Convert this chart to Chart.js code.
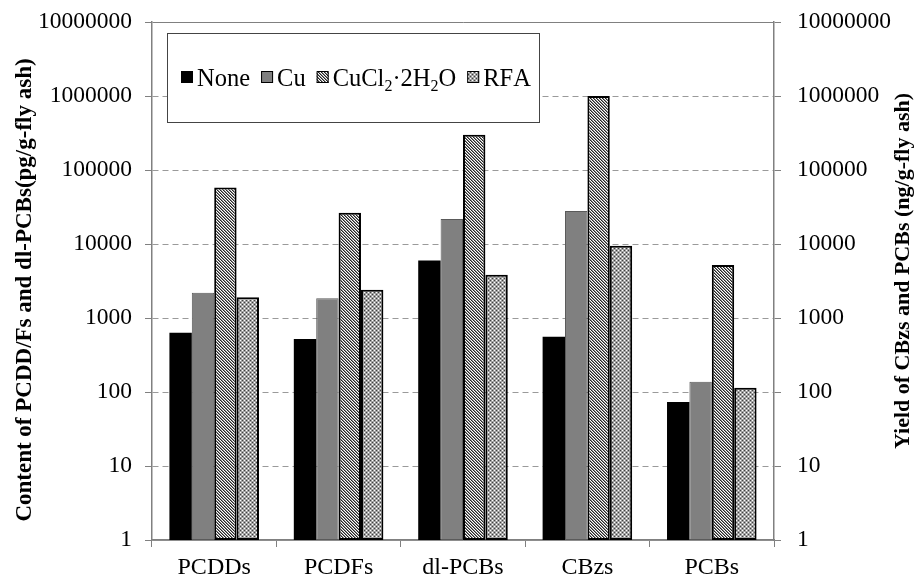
<!DOCTYPE html>
<html>
<head>
<meta charset="utf-8">
<script src="https://cdn.jsdelivr.net/npm/chart.js@4.4.1/dist/chart.umd.min.js"></script>
<style>
  html, body { margin: 0; padding: 0; background: #fff; }
  #wrap { width: 918px; height: 579px; }
</style>
</head>
<body>
<div id="wrap"><canvas id="c" width="918" height="579"></canvas></div>
<script>
// Categories, series and tick values
const categories = ['PCDDs', 'PCDFs', 'dl-PCBs', 'CBzs', 'PCBs'];
const seriesNames = ['None', 'Cu', 'CuCl₂·2H₂O', 'RFA'];
const noneValues  = [630, 520, 6000, 560, 73];
const cuValues    = [2200, 1850, 21800, 27900, 138];
const cucl2Values = [58000, 26500, 300000, 1000000, 5200];
const rfaValues   = [1900, 2400, 3850, 9500, 114];
const tickValues  = [1, 10, 100, 1000, 10000, 100000, 1000000, 10000000];
const leftTitle  = 'Content of PCDD/Fs and dl-PCBs(pg/g-fly ash)';
const rightTitle = 'Yield of CBzs and PCBs (ng/g-fly ash)';

const SERIF = "'Liberation Serif', 'Times New Roman', serif";
Chart.defaults.font.family = SERIF;
Chart.defaults.color = '#000';

// Fill patterns built pixel by pixel
function makePattern(rows, palette) {
  const c = document.createElement('canvas');
  c.width = rows[0].length; c.height = rows.length;
  const g = c.getContext('2d');
  rows.forEach((row, y) => {
    for (let x = 0; x < row.length; x++) {
      g.fillStyle = palette[row[x]];
      g.fillRect(x, y, 1, 1);
    }
  });
  return g.createPattern(c, 'repeat');
}
const ctx0 = document.getElementById('c').getContext('2d');
// fine diagonal stripes running down to the right
const hatchFill = makePattern(['kgw', 'wkg', 'gwk'], { k: '#262626', g: '#8a8a8a', w: '#ffffff' });
// grey ground with light and dark dots
const dotFill = makePattern(['wgkg', 'gggg', 'kgwg', 'gggg'], { w: '#ffffff', g: '#a2a2a2', k: '#404040' });

const fixWidth = (w) => (s) => { s.width = w; s.paddingTop = 0; s.paddingBottom = 0; };
const setPowerTicks = (s) => { s.ticks = tickValues.map(v => ({ value: v })); };

// Framed legend inside the plot, with subscripted formula text
const legendBox = {
  id: 'legendBox',
  afterDatasetsDraw(chart) {
    const { ctx, chartArea } = chart;
    const x0 = chartArea.left + 15, y0 = chartArea.top + 11, w = 372, h = 89;
    ctx.save();
    ctx.fillStyle = '#fff';
    ctx.fillRect(x0, y0, w, h);
    ctx.strokeStyle = '#444';
    ctx.lineWidth = 1;
    ctx.strokeRect(x0 + 0.5, y0 + 0.5, w, h);
    const cy = y0 + 44;
    let x = x0 + 14;
    chart.data.datasets.forEach(ds => {
      ctx.fillStyle = ds.backgroundColor;
      ctx.fillRect(x, cy - 6, 12, 12);
      ctx.strokeStyle = ds.borderWidth ? '#000' : ds.backgroundColor;
      ctx.lineWidth = 1;
      ctx.strokeRect(x + 0.5, cy - 5.5, 11, 11);
      x += 12 + 4;
      ctx.fillStyle = '#000';
      ctx.textBaseline = 'alphabetic';
      ctx.textAlign = 'left';
      const base = cy + 8.5;
      for (const ch of ds.label) {
        if (ch === '₂') {
          ctx.font = '16px ' + SERIF;
          ctx.fillText('2', x, base + 5);
          x += ctx.measureText('2').width;
        } else {
          ctx.font = '24.5px ' + SERIF;
          ctx.fillText(ch, x, base);
          x += ctx.measureText(ch).width;
        }
      }
      x += 11;
    });
    ctx.restore();
  }
};

// Vertical axis titles, both reading bottom to top
const axisTitles = {
  id: 'axisTitles',
  afterDraw(chart) {
    const { ctx } = chart;
    const draw = (text, x, y, size) => {
      ctx.save();
      ctx.translate(x, y);
      ctx.rotate(-Math.PI / 2);
      ctx.font = 'bold ' + size + 'px ' + SERIF;
      ctx.fillStyle = '#000';
      ctx.textAlign = 'center';
      ctx.textBaseline = 'middle';
      ctx.fillText(text, 0, 0);
      ctx.restore();
    };
    draw(leftTitle, 25, 290, 23);
    draw(rightTitle, 903, 271, 22);
  }
};

new Chart(ctx0, {
  type: 'bar',
  data: {
    labels: categories,
    datasets: [
      { label: seriesNames[0], data: noneValues,  backgroundColor: '#000000', borderWidth: 0 },
      { label: seriesNames[1], data: cuValues,    backgroundColor: '#808080', borderColor: '#5a5a5a', borderWidth: 1 },
      { label: seriesNames[2], data: cucl2Values, backgroundColor: hatchFill, borderColor: '#000', borderWidth: 2 },
      { label: seriesNames[3], data: rfaValues,   backgroundColor: dotFill,   borderColor: '#000', borderWidth: 2 }
    ]
  },
  options: {
    responsive: false,
    animation: false,
    devicePixelRatio: 1,
    layout: { padding: { top: 22, left: 0, right: 0, bottom: 0 } },
    datasets: { bar: { categoryPercentage: 0.72, barPercentage: 1.0, borderSkipped: false } },
    plugins: { legend: { display: false }, tooltip: { enabled: false } },
    scales: {
      x: {
        afterFit: (s) => { s.height = 39; },
        grid: { offset: true, drawOnChartArea: false, drawTicks: true, tickLength: 7, color: '#808080', tickColor: '#808080' },
        border: { color: '#808080', width: 1.5 },
        ticks: { font: { size: 24 }, padding: 6, color: '#000' }
      },
      y: {
        type: 'logarithmic',
        position: 'left',
        min: 1, max: 10000000,
        afterFit: fixWidth(152),
        afterBuildTicks: setPowerTicks,
        grid: {
          color: (c) => (c.tick && c.tick.value === 10000000) ? '#808080' : '#9a9a9a',
          lineWidth: 1, tickLength: 7, tickColor: '#808080'
        },
        border: {
          color: '#808080', width: 1.5,
          dash: (c) => (c.tick && (c.tick.value === 10000000 || c.tick.value === 1)) ? [] : [6, 4]
        },
        ticks: { font: { size: 23.5 }, padding: 13, color: '#000', callback: (v) => String(v) }
      },
      y2: {
        type: 'logarithmic',
        position: 'right',
        min: 1, max: 10000000,
        afterFit: fixWidth(144),
        afterBuildTicks: setPowerTicks,
        grid: { drawOnChartArea: false, tickLength: 7, tickColor: '#808080', color: '#808080' },
        border: { color: '#808080', width: 1.5 },
        ticks: { font: { size: 23.5 }, padding: 16, color: '#000', callback: (v) => String(v) }
      }
    }
  },
  plugins: [legendBox, axisTitles]
});
</script>
</body>
</html>
